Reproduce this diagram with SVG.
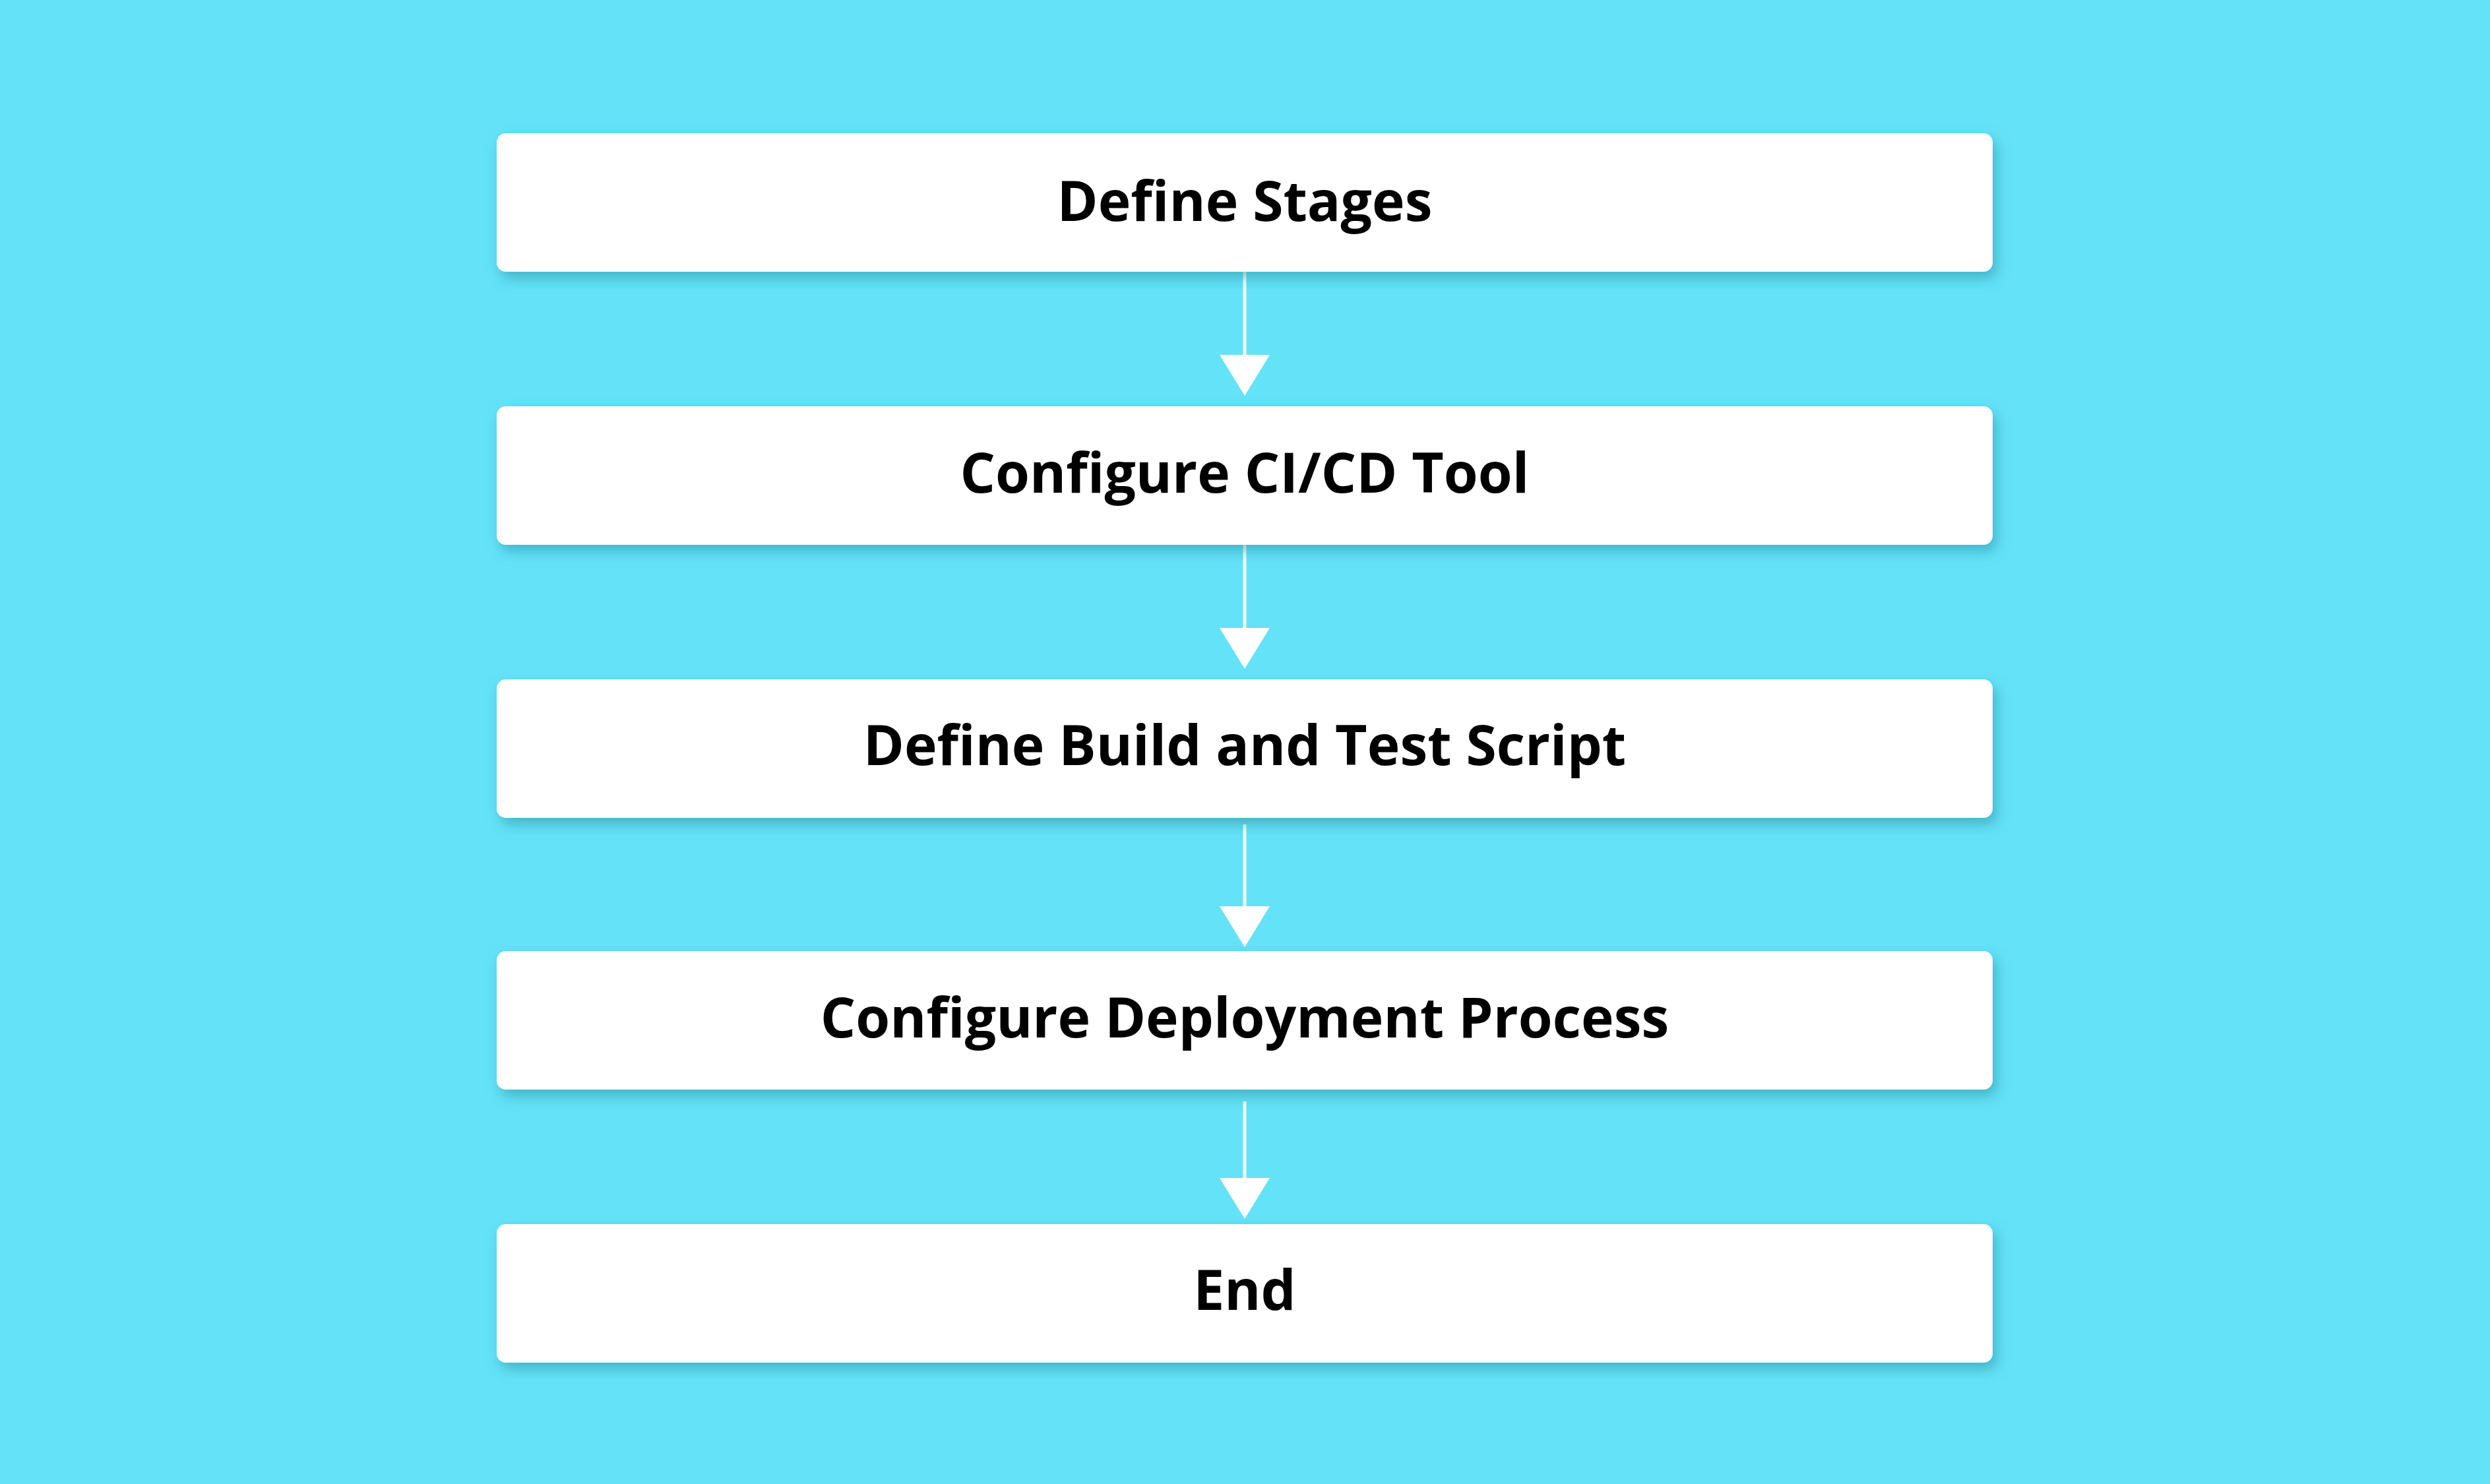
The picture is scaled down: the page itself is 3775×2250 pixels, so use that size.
<svg xmlns="http://www.w3.org/2000/svg" width="3775" height="2250" viewBox="0 0 3775 2250">
<defs>
<style>
.box{fill:#ffffff;filter:url(#sh)}
.t{font-family:"Open Sans","Liberation Sans",sans-serif;font-weight:bold;font-size:84px;fill:#000;text-anchor:middle;dominant-baseline:central}
.c{stroke:#fff;stroke-width:5;fill:none}
.h{fill:#fff}
</style>
<filter id="sh" x="-10%" y="-30%" width="120%" height="170%">
<feDropShadow dx="6" dy="10" stdDeviation="10" flood-color="#2a8fa0" flood-opacity="0.55"/>
</filter>
</defs>
<rect width="3775" height="2250" fill="#64e2f8"/>
<g id="connectors">
<line class="c" x1="1887" y1="412" x2="1887" y2="545"/><polygon class="h" points="1849,538 1925,538 1887,600"/>
<line class="c" x1="1887" y1="826" x2="1887" y2="959"/><polygon class="h" points="1849,952 1925,952 1887,1014"/>
<line class="c" x1="1887" y1="1250" x2="1887" y2="1380"/><polygon class="h" points="1849,1374 1925,1374 1887,1436"/>
<line class="c" x1="1887" y1="1670" x2="1887" y2="1792"/><polygon class="h" points="1849,1786 1925,1786 1887,1848"/>
</g>
<g id="n1"><rect class="box" x="753" y="202" width="2268" height="210" rx="14"/><text class="t" x="1887" y="302">Define Stages</text></g>
<g id="n2"><rect class="box" x="753" y="616" width="2268" height="210" rx="14"/><text class="t" x="1887" y="714">Configure CI/CD Tool</text></g>
<g id="n3"><rect class="box" x="753" y="1030" width="2268" height="210" rx="14"/><text class="t" x="1887" y="1127">Define Build and Test Script</text></g>
<g id="n4"><rect class="box" x="753" y="1442" width="2268" height="210" rx="14"/><text class="t" x="1887" y="1540">Configure Deployment Process</text></g>
<g id="n5"><rect class="box" x="753" y="1856" width="2268" height="210" rx="14"/><text class="t" x="1887" y="1953">End</text></g>
</svg>
